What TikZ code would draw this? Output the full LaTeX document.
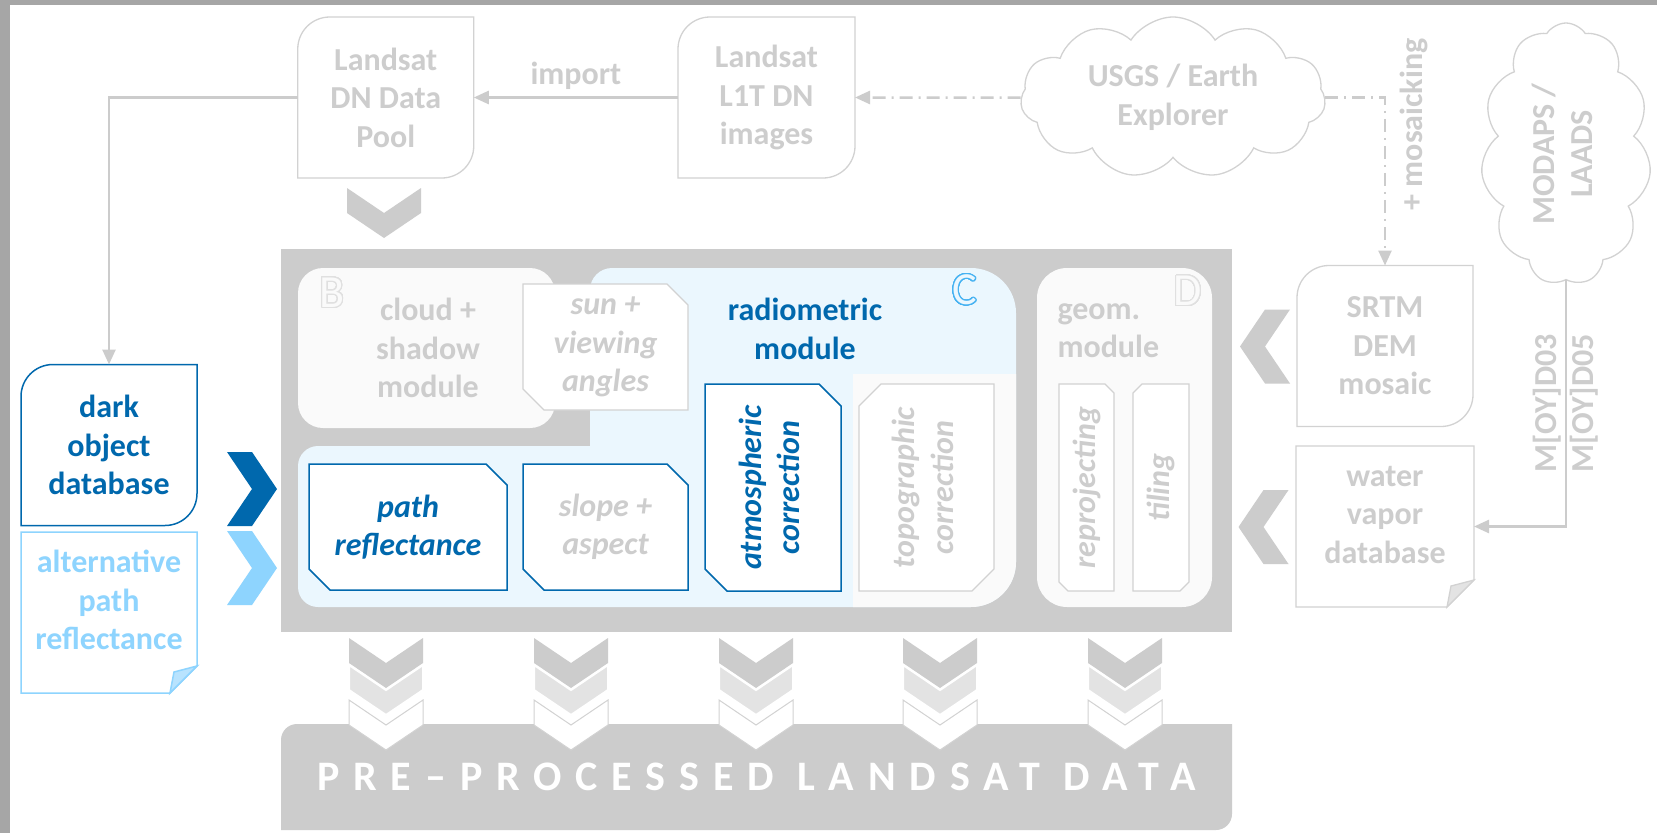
\documentclass[tikz,border=0pt]{standalone}
\usepackage{fontspec}
\setmainfont{Carlito}
\usepackage{graphicx}
\usepackage{contour}
\usetikzlibrary{arrows.meta, positioning, shapes.symbols, backgrounds, calc}
\definecolor{lgray}{HTML}{CCCCCC}
\definecolor{tgray}{HTML}{CDCDCD}
\definecolor{bgray}{HTML}{D2D2D2}
\definecolor{mfill}{HTML}{FAFAFA}
\definecolor{cfill}{HTML}{EBF7FE}
\definecolor{dblue}{HTML}{0068AD}
\definecolor{lblue}{HTML}{8ED4FE}
\definecolor{flapblue}{HTML}{B8E3FE}
\definecolor{cblue}{HTML}{45B2F2}
\definecolor{fgray}{HTML}{A6A6A6}
\definecolor{chgray}{HTML}{E3E3E3}
\definecolor{ltr}{HTML}{E0E0E0}
\contourlength{1.1pt}
\contournumber{32}

\newcommand{\bigfont}{\fontsize{32}{38.5}\selectfont\bfseries}
\newcommand{\boxfont}{\fontsize{32}{38.5}\selectfont\bfseries\itshape}

% outline, rounded top-left and bottom-right
\newcommand{\tlbr}[3]{%
  \path[#3] ([xshift=#2]#1.north west) -- (#1.north east) -- ([yshift=#2]#1.south east)
    arc[start angle=0, end angle=-90, radius=#2] -- (#1.south west)
    -- ([yshift=-#2]#1.north west) arc[start angle=180, end angle=90, radius=#2] -- cycle;}
% chamfer top-right and bottom-left
\newcommand{\chamA}[3]{%
  \path[#3] (#1.north west) -- ([xshift=-#2]#1.north east) -- ([yshift=-#2]#1.north east)
    -- (#1.south east) -- ([xshift=#2]#1.south west) -- ([yshift=#2]#1.south west) -- cycle;}
% chamfer top-left and bottom-right
\newcommand{\chamB}[3]{%
  \path[#3] ([xshift=#2]#1.north west) -- (#1.north east) -- ([yshift=#2]#1.south east)
    -- ([xshift=-#2]#1.south east) -- (#1.south west) -- ([yshift=-#2]#1.north west) -- cycle;}
% document with folded corner
\newcommand{\docshape}[3]{%
  \path[#3] (#1.north west) -- (#1.north east) -- ([yshift=27pt]#1.south east)
    -- ([xshift=-27pt]#1.south east) -- (#1.south west) -- cycle;
  \path[#3, fill=#2] ([yshift=27pt]#1.south east) -- ([xshift=-23pt,yshift=21pt]#1.south east)
    -- ([xshift=-27pt]#1.south east) -- cycle;}

\begin{document}
\begin{tikzpicture}[x=1pt, y=1pt,
  >={Triangle[length=15pt, width=13pt]},
  src/.style={minimum width=176pt, minimum height=161pt, inner sep=0pt, outer sep=0pt,
              align=center, font=\bigfont, text=tgray},
  cloudbox/.style={cloud, cloud puffs=11, cloud puff arc=115, cloud ignores aspect,
              draw=bgray, line width=1.3pt, inner sep=0pt, align=center, font=\bigfont, text=tgray},
  ibox/.style={inner sep=0pt, outer sep=0pt, align=center, font=\boxfont, text=tgray},
  mtxt/.style={align=center, font=\bigfont, text=tgray},
  letter/.style={font=\fontsize{46}{46}\selectfont, inner sep=0pt},
  conn/.style={->, draw=lgray, line width=2.5pt},
  dashdot/.style={->, draw=lgray, line width=2.5pt, dash pattern=on 13pt off 6pt on 2pt off 6pt},
  lbl/.style={font=\bigfont, text=tgray},
  chev/.pic={\path[pic actions] (-25,37) -- (0,37) -- (25,0) -- (0,-37) -- (-25,-37) -- (0,0) -- cycle;}
]
\useasboundingbox (0,0) rectangle (1657,-833);

% ---- frame and module areas ----
\begin{scope}[on background layer]
  \fill[fgray] (0,0) rectangle (1657,-833);
  \fill[white] (10,-5) rectangle (1657,-833);
  \fill[lgray] (281,-249) rectangle (1232,-632);
  \fill[mfill, rounded corners=25pt] (298,-268) rectangle (555,-428);
  \fill[cfill] (612,-268) -- (971,-268) arc[start angle=90, end angle=0, radius=45]
    -- (1016,-562) arc[start angle=0, end angle=-90, radius=45]
    -- (318,-607) arc[start angle=270, end angle=180, radius=20]
    -- (298,-466) arc[start angle=180, end angle=90, radius=20]
    -- (590,-446) -- (590,-290) arc[start angle=180, end angle=90, radius=22] -- cycle;
  \fill[mfill] (853,-374) -- (1016,-374) -- (1016,-562)
    arc[start angle=0, end angle=-90, radius=45] -- (853,-607) -- cycle;
  \fill[mfill, rounded corners=30pt] (1037,-268) rectangle (1212,-607);
\end{scope}

% ---- sources ----
\node[src] (pool) at (385.75,-97.5) {Landsat\\DN Data\\Pool};
\node[src, minimum width=177pt] (l1t) at (766.5,-97.5) {Landsat\\L1T DN\\images};
\node[cloudbox, minimum width=305pt, minimum height=161pt] (usgs) at (1173,-97.5) {USGS / Earth\\Explorer};
\node[cloudbox, minimum width=170pt, minimum height=262pt] (modaps) at (1566,-154)
  {\rotatebox{90}{\begin{tabular}{@{}c@{}}MODAPS /\\LAADS\end{tabular}}};
\node[src] (srtm) at (1385,-346) {SRTM\\DEM\\mosaic};
\node[src, minimum width=178pt] (water) at (1385,-526.5) {};
\node[mtxt] (watertxt) at (1385,-515) {water\\vapor\\database};
\node[src, text=dblue] (dark) at (109,-445) {dark\\object\\database};
\node[src] (alt) at (109,-612.5) {};
\node[mtxt, text=lblue] (alttxt) at (109,-600) {alternative\\path\\reflectance};

% ---- modules ----
\node[mtxt] (cloudtxt) at (428,-348) {cloud +\\shadow\\module};
\node[mtxt, text=dblue] (radtxt) at (805,-329) {radiometric\\module};
\node[mtxt, align=left, anchor=west] (geotxt) at (1054,-330.5) {geom.\\module};
\node[letter] (letB) at (332,-293) {\textcolor{mfill}{\contour{ltr}{B}}};
\node[letter] (letC) at (964.5,-290.5) {\textcolor{cfill}{\contour{cblue}{C}}};
\node[letter] (letD) at (1188,-291.5) {\textcolor{mfill}{\contour{ltr}{D}}};

\node[ibox, minimum width=165pt, minimum height=126pt] (sun) at (605.5,-347) {sun +\\viewing\\angles};
\node[ibox, text=dblue, minimum width=198pt, minimum height=126pt] (pathrefl) at (408,-527) {path\\reflectance};
\node[ibox, minimum width=165pt, minimum height=126pt] (slope) at (605.5,-527) {slope +\\aspect};
\node[ibox, text=dblue, minimum width=136pt, minimum height=207pt] (atmos) at (773,-487.5)
  {\rotatebox{90}{\begin{tabular}{@{}c@{}}atmospheric\\correction\end{tabular}}};
\node[ibox, minimum width=135pt, minimum height=207pt] (topo) at (926.5,-487.5)
  {\rotatebox{90}{\begin{tabular}{@{}c@{}}topographic\\correction\end{tabular}}};
\node[ibox, minimum width=55pt, minimum height=207pt] (reproj) at (1086.5,-487.5) {\rotatebox{90}{reprojecting}};
\node[ibox, minimum width=56pt, minimum height=207pt] (tiling) at (1161,-487.5) {\rotatebox{90}{tiling}};

\node[font=\fontsize{42}{50}\selectfont\bfseries\addfontfeature{LetterSpace=33}, text=white,
      minimum width=951pt, minimum height=106pt, inner sep=0pt, outer sep=0pt] (pre)
  at (756.5,-777) {PRE–PROCESSED LANDSAT DATA};

% ---- box outlines ----
\begin{scope}[on background layer]
  \tlbr{pool}{32pt}{draw=bgray, line width=1.3pt}
  \tlbr{l1t}{32pt}{draw=bgray, line width=1.3pt}
  \tlbr{srtm}{32pt}{draw=bgray, line width=1.3pt}
  \tlbr{dark}{32pt}{draw=dblue, line width=1.5pt}
  \docshape{alt}{flapblue}{draw=lblue, line width=1.5pt}
  \docshape{water}{chgray}{draw=bgray, line width=1.3pt}
  \chamA{sun}{21pt}{fill=white, draw=bgray, line width=1.3pt}
  \chamA{pathrefl}{21pt}{fill=white, draw=dblue, line width=1.5pt}
  \chamA{slope}{21pt}{fill=white, draw=dblue, line width=1.5pt}
  \chamA{atmos}{22pt}{fill=white, draw=dblue, line width=1.5pt}
  \chamB{topo}{22pt}{fill=white, draw=bgray, line width=1.3pt}
  \chamA{reproj}{9pt}{fill=white, draw=bgray, line width=1.3pt}
  \chamB{tiling}{9pt}{fill=white, draw=bgray, line width=1.3pt}
  \tlbr{pre}{16pt}{fill=lgray}
\end{scope}

% ---- connectors ----
\draw[conn] (l1t) -- node[above=3pt, lbl] {import} (pool);
\draw[dashdot] (usgs.west) -- (l1t.east);
\draw[dashdot] (usgs.east) -| node[pos=0.58, rotate=90, anchor=north, outer sep=12pt, lbl] {+ mosaicking} (srtm.north);
\draw[conn] (pool.west) -| (dark.north);
\draw[conn] (modaps.south) |- node[pos=0.25, rotate=90, anchor=south, lbl] {M[OY]D03}
  node[pos=0.25, rotate=90, anchor=north, lbl] {M[OY]D05} (water.east);

% ---- chevrons ----
\pic[rotate=-90, fill=lgray] at (384,-213) {chev};
\pic[fill=dblue] at (252,-489) {chev};
\pic[fill=lblue] at (252,-568) {chev};
\pic[rotate=180, fill=lgray] at (1265,-346.5) {chev};
\pic[rotate=180, fill=lgray] at (1263.5,-527) {chev};
\foreach \x in {386,571,756,940,1125} {
  \pic[rotate=-90, fill=lgray] at (\x,-663) {chev};
  \pic[rotate=-90, fill=chgray, draw=white, line width=2pt] at (\x,-690) {chev};
  \pic[rotate=-90, fill=white, draw=bgray, line width=1pt] at (\x,-725) {chev};
}

\end{tikzpicture}
\end{document}
